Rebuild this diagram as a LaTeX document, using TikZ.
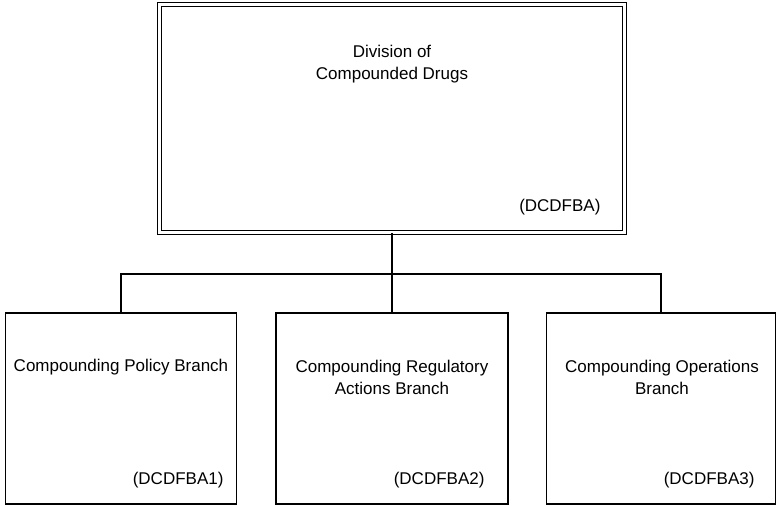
\documentclass[tikz,border=0pt]{standalone}
\usepackage{fontspec}
\setmainfont{Liberation Sans}

\begin{document}
\begin{tikzpicture}[x=1pt,y=-1pt,
  unitbox/.style={draw=black,line width=1.6pt,minimum width=229pt,minimum height=191.5pt,inner sep=0pt},
  divbox/.style={draw=black,line width=1.4pt,double=white,double distance=2.6pt,minimum width=465pt,minimum height=228pt,inner sep=0pt},
  title/.style={align=center,font=\fontsize{17}{21.5}\selectfont,text=black},
  code/.style={anchor=east,font=\fontsize{17}{21.5}\selectfont,text=black}]
\useasboundingbox (0,0) rectangle (777,506);
\node[divbox] (dcd) at (392,118.5) {};
\node[unitbox,minimum width=231pt] (policy) at (121,408.5) {};
\node[unitbox,minimum width=232pt] (regul) at (392,408.5) {};
\node[unitbox] (ops) at (661,408.5) {};
\coordinate (bus) at (392,274);
\draw[line width=1.6pt] (dcd.south) -- (bus);
\draw[line width=1.6pt] (policy.north) |- (bus) -| (ops.north);
\draw[line width=1.6pt] (bus) -- (regul.north);
\node[title,font=\fontsize{17}{22}\selectfont] (dcdname) at (392,64) {Division of\\Compounded Drugs};
\node[code] (dcdcode) at (604,207) {(DCDFBA)};
\node[title] (policyname) at (121,367) {Compounding Policy Branch};
\node[code] (policycode) at (227,480) {(DCDFBA1)};
\node[title] (regulname) at (392,377.5) {Compounding Regulatory\\Actions Branch};
\node[code] (regulcode) at (488,480) {(DCDFBA2)};
\node[title] (opsname) at (662,377.5) {Compounding Operations\\Branch};
\node[code] (opscode) at (758,480) {(DCDFBA3)};
\end{tikzpicture}
\end{document}
